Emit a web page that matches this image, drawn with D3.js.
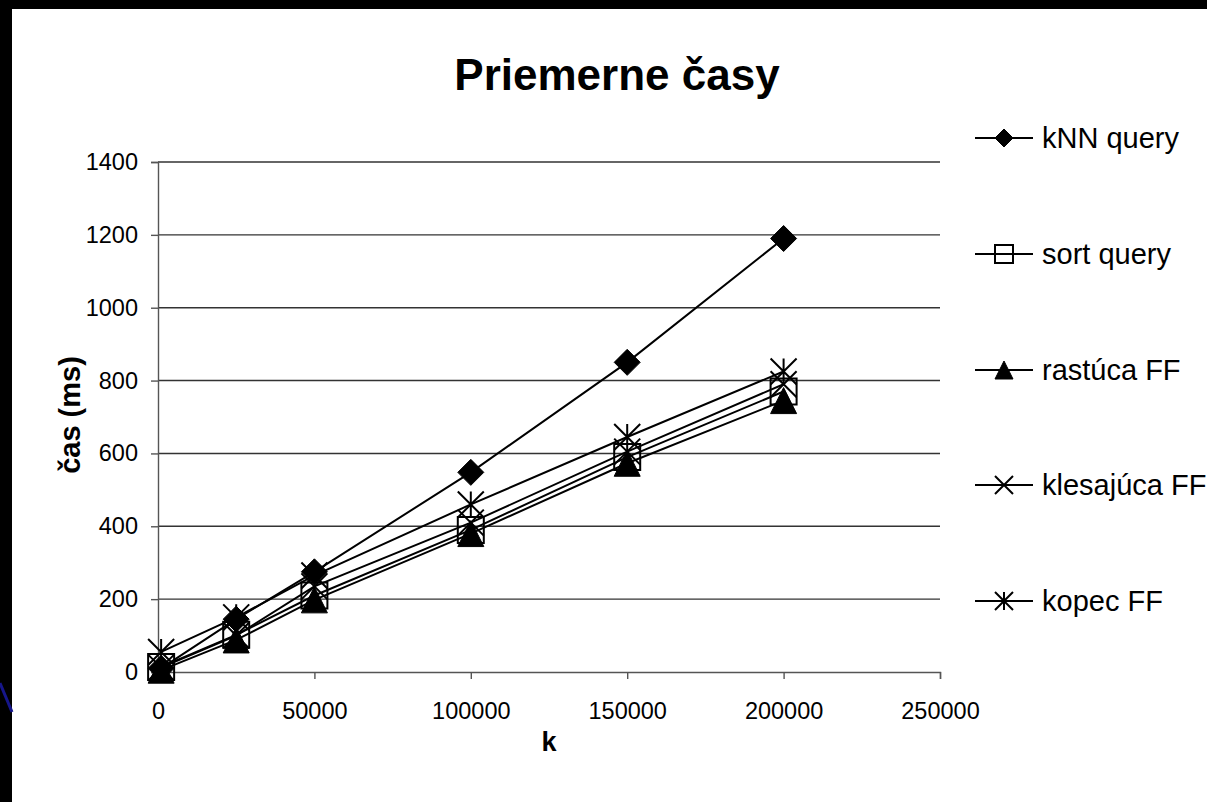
<!DOCTYPE html>
<html><head><meta charset="utf-8">
<script src="https://cdn.jsdelivr.net/npm/d3@7"></script>
<style>html,body{margin:0;padding:0;background:#000;overflow:hidden}svg{display:block}</style>
</head><body>
<script>
const kValues = [1000, 25000, 50000, 100000, 150000, 200000];
const seriesNames = ["kNN query", "sort query", "rastúca FF", "klesajúca FF", "kopec FF"];
const knnQuery   = [10, 145, 275, 548, 850, 1190];
const sortQuery  = [14, 102, 210, 390, 590, 770];
const rastucaFF  = [5, 88, 198, 380, 573, 745];
const klesajucaFF= [12, 100, 235, 410, 605, 790];
const kopecFF    = [55, 150, 265, 460, 645, 825];
const markerTypes = ["diamond", "square", "triangle", "x", "star"];
const xTicks = [0, 50000, 100000, 150000, 200000, 250000];
const yTicks = [0, 200, 400, 600, 800, 1000, 1200, 1400];
const titleText = "Priemerne časy";
const xTitle = "k";
const yTitle = "čas (ms)";

const W = 1207, H = 802;
const seriesValues = [knnQuery, sortQuery, rastucaFF, klesajucaFF, kopecFF];
const svg = d3.select("body").append("svg").attr("width", W).attr("height", H);
svg.append("rect").attr("x", 0).attr("y", 0).attr("width", W).attr("height", H).attr("fill", "#000");
svg.append("rect").attr("x", 12).attr("y", 9).attr("width", W - 12).attr("height", H - 9).attr("fill", "#fff");
svg.append("line").attr("x1", 0).attr("y1", 683).attr("x2", 12).attr("y2", 712).attr("stroke", "#16168a").attr("stroke-width", 3);

const font = "Liberation Sans, Arial, sans-serif";
const x = d3.scaleLinear().domain([0, 250000]).range([158, 940]);
const y = d3.scaleLinear().domain([0, 1400]).range([672, 162]);

// gridlines
svg.append("g").selectAll("line").data(yTicks.filter(d => d > 0)).join("line")
  .attr("x1", x(0)).attr("x2", x(250000)).attr("y1", d => y(d)).attr("y2", d => y(d))
  .attr("stroke", "#333").attr("stroke-width", 1.4);

// y axis
const gy = svg.append("g").attr("transform", `translate(${x(0)},0)`)
  .call(d3.axisLeft(y).tickValues(yTicks).tickSize(7).tickPadding(13).tickFormat(d3.format("d")));
gy.select(".domain").attr("stroke", "#555").attr("stroke-width", 1.4);
gy.selectAll(".tick line").attr("stroke", "#555").attr("stroke-width", 1.4);
gy.selectAll("text").attr("font-family", font).attr("font-size", 23.5).attr("fill", "#000");

// x axis
const gx = svg.append("g").attr("transform", `translate(0,${y(0)})`)
  .call(d3.axisBottom(x).tickValues(xTicks).tickSize(7).tickPadding(23).tickFormat(d3.format("d")));
gx.select(".domain").attr("stroke", "#555").attr("stroke-width", 1.4);
gx.selectAll(".tick line").attr("stroke", "#555").attr("stroke-width", 1.4);
gx.selectAll("text").attr("font-family", font).attr("font-size", 23.5).attr("fill", "#000");

function markerPath(type, s) {
  const h = s / 2;
  switch (type) {
    case "diamond": return `M0,${-h}L${h},0L0,${h}L${-h},0Z`;
    case "square": return `M${-h},${-h}H${h}V${h}H${-h}Z`;
    case "triangle": return `M0,${-h}L${h},${h}L${-h},${h}Z`;
    case "x": return `M${-h},${-h}L${h},${h}M${h},${-h}L${-h},${h}`;
    case "star": return `M${-h},${-h}L${h},${h}M${h},${-h}L${-h},${h}M0,${-h}V${h}`;
  }
}
function drawMarker(g, type, s) {
  const filled = type === "diamond" || type === "triangle";
  g.append("path").attr("d", markerPath(type, s))
    .attr("fill", filled ? "#000" : "none")
    .attr("stroke", "#000").attr("stroke-width", filled ? 1 : 2);
}

const line = d3.line().x((d, i) => x(kValues[i])).y(d => y(d));
seriesValues.forEach((vals, si) => {
  const g = svg.append("g");
  g.append("path").datum(vals).attr("d", line).attr("fill", "none").attr("stroke", "#000").attr("stroke-width", 2);
  vals.forEach((v, i) => {
    const mg = g.append("g").attr("transform", `translate(${x(kValues[i])},${y(v)})`);
    drawMarker(mg, markerTypes[si], 26);
  });
});

// legend
const legendY = [138, 254, 370, 485, 601];
seriesNames.forEach((name, i) => {
  const g = svg.append("g").attr("transform", `translate(975,${legendY[i]})`);
  g.append("line").attr("x1", 0).attr("x2", 58).attr("y1", 0).attr("y2", 0).attr("stroke", "#000").attr("stroke-width", 2);
  const mg = g.append("g").attr("transform", "translate(29,0)");
  drawMarker(mg, markerTypes[i], 18);
  g.append("text").attr("x", 67).attr("y", 0).attr("dy", "0.35em")
    .attr("font-family", font).attr("font-size", 29).attr("fill", "#000").text(name);
});

// titles
svg.append("text").attr("x", 617).attr("y", 75).attr("dy", "0.35em").attr("text-anchor", "middle")
  .attr("font-family", font).attr("font-weight", "bold").attr("font-size", 44).text(titleText);
svg.append("text").attr("x", 549).attr("y", 742).attr("dy", "0.35em").attr("text-anchor", "middle")
  .attr("font-family", font).attr("font-weight", "bold").attr("font-size", 27).text(xTitle);
svg.append("text").attr("transform", "translate(70,415) rotate(-90)").attr("dy", "0.35em").attr("text-anchor", "middle")
  .attr("font-family", font).attr("font-weight", "bold").attr("font-size", 29).text(yTitle);
</script>
</body></html>
